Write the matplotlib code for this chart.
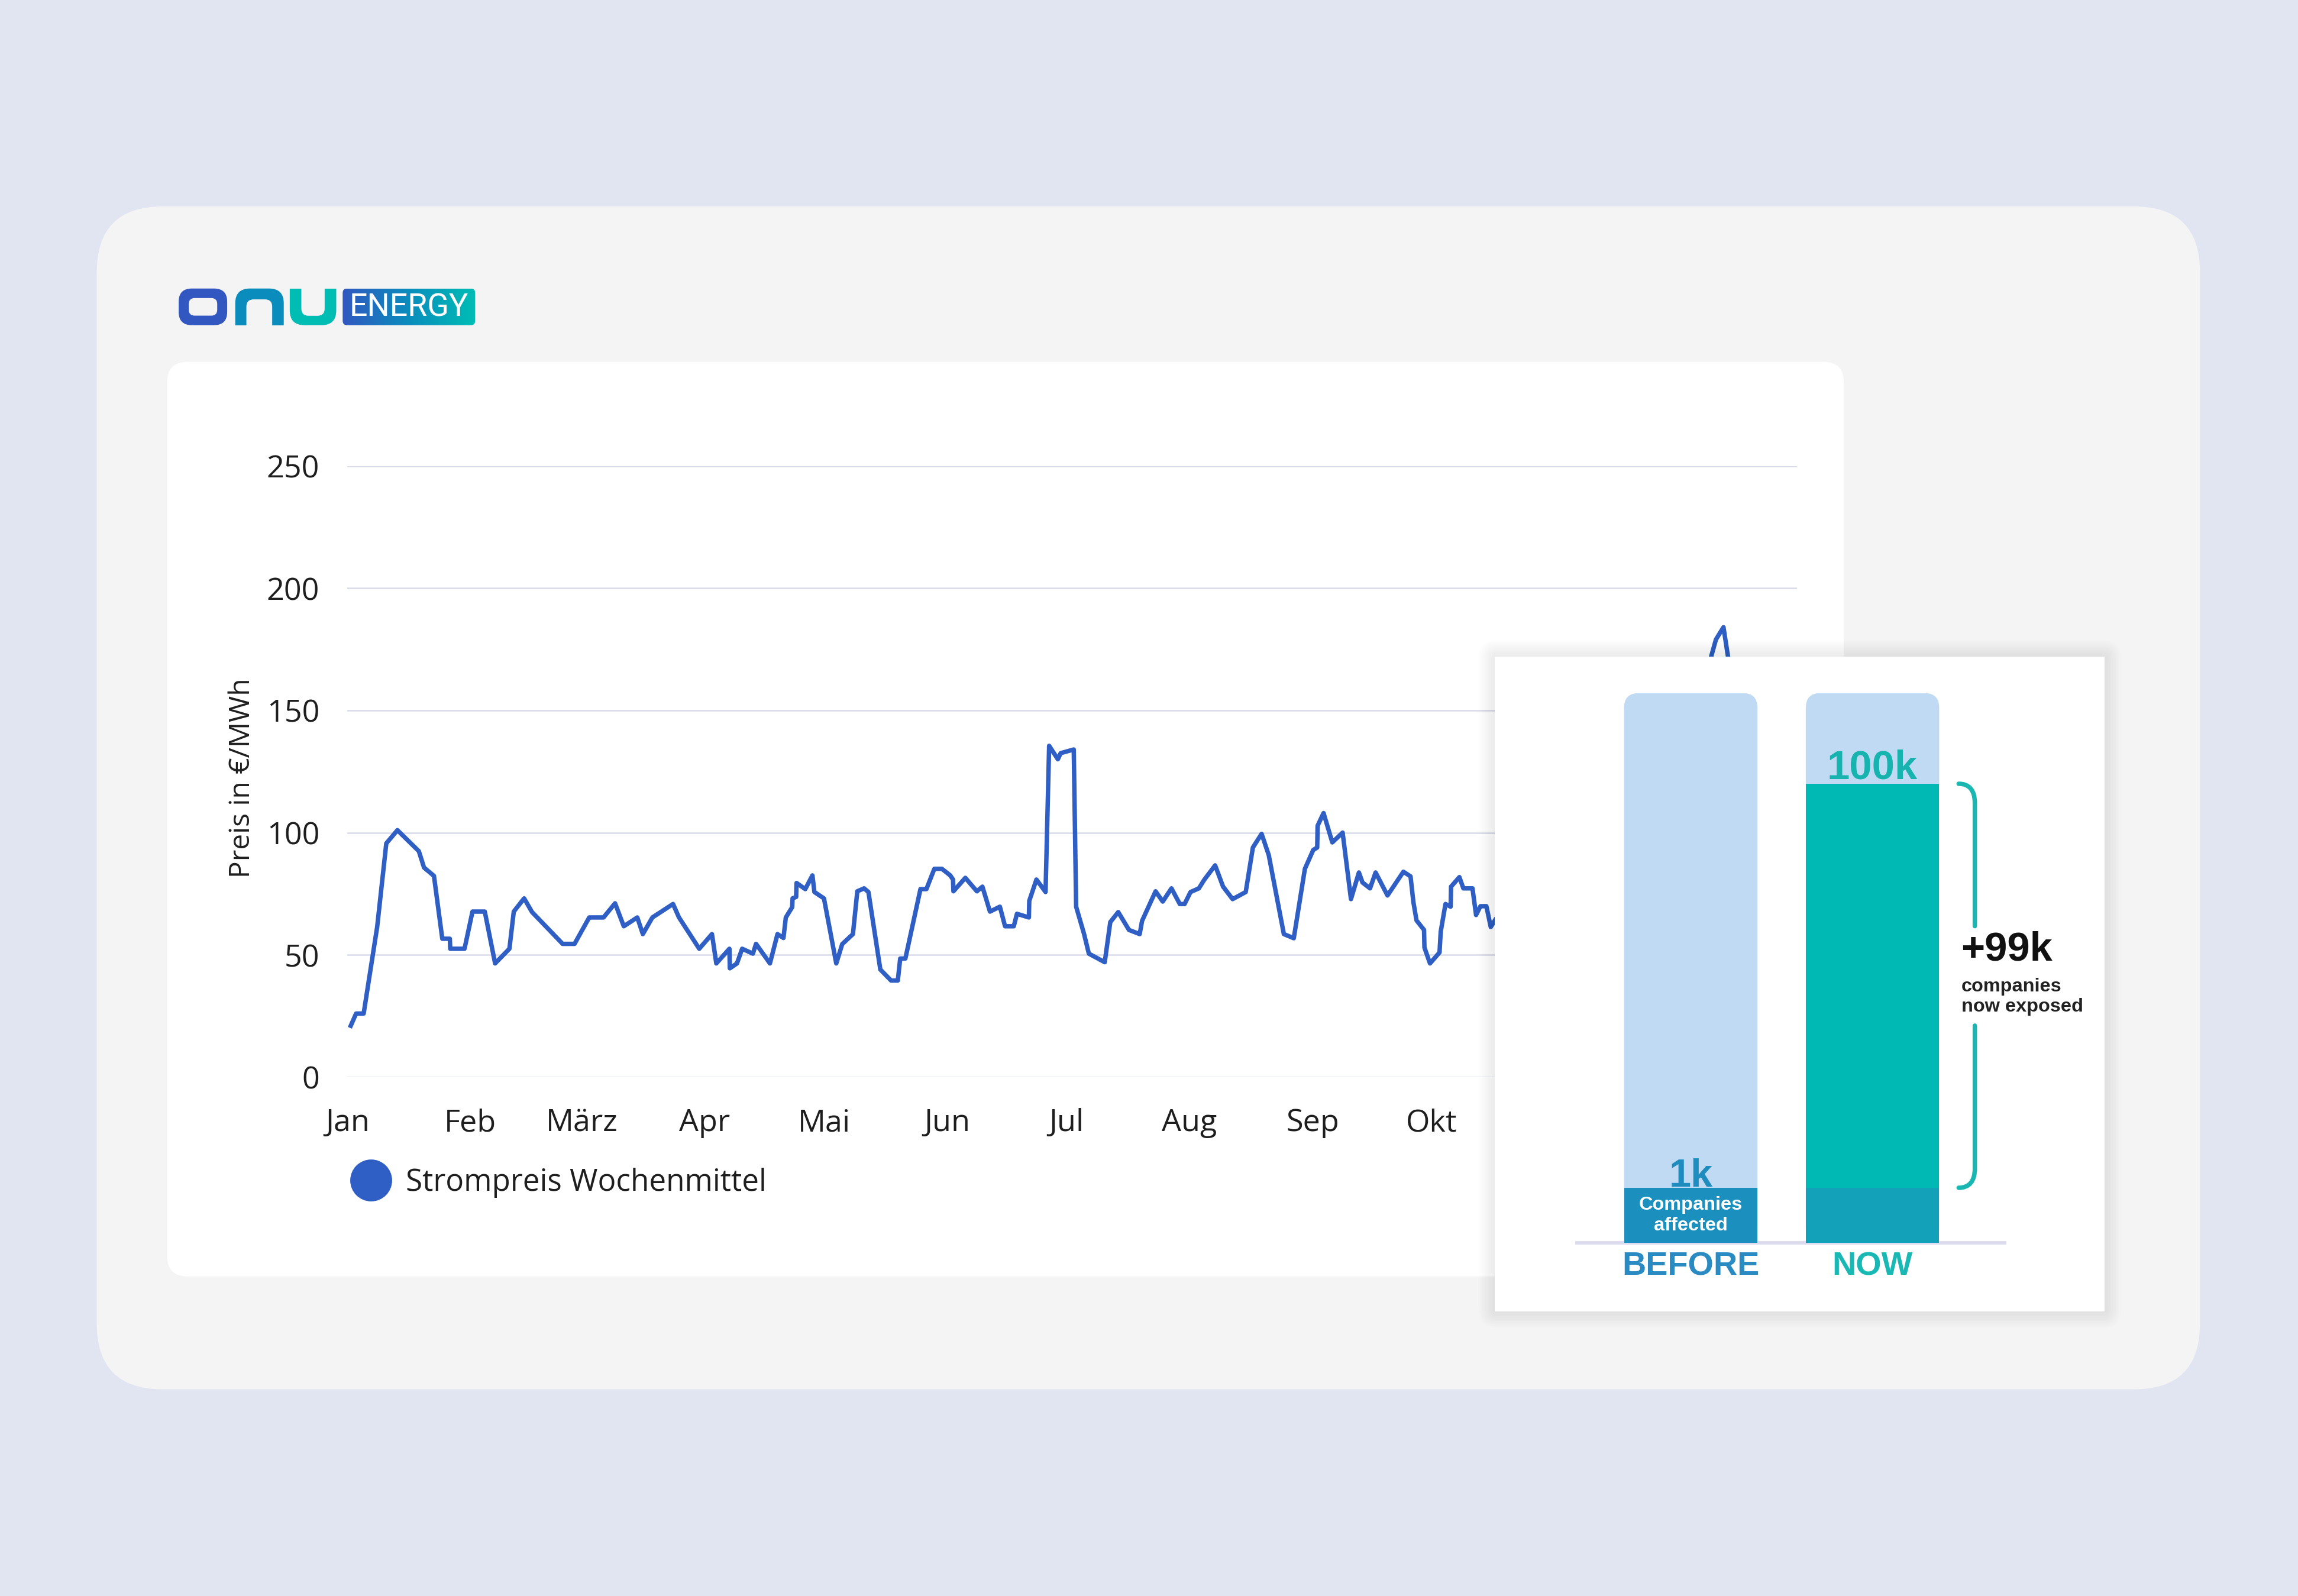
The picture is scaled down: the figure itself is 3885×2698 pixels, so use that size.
import matplotlib
matplotlib.use("Agg")
import matplotlib.pyplot as plt
import numpy as np
from matplotlib.patches import FancyBboxPatch, Rectangle, PathPatch
from matplotlib.path import Path
from matplotlib.lines import Line2D
from matplotlib.colors import LinearSegmentedColormap

plt.rcParams['font.family'] = ['Open Sans', 'DejaVu Sans']

# ---------------- data ----------------
# weekly mean power price, x = day of year, y = EUR/MWh
days = [0.85, 2.2, 4.1, 7.5, 9.8, 12.6, 18.0, 19.3, 21.8, 23.9, 25.8, 25.9, 29.5,
        31.5, 34.6, 37.2, 40.8, 41.9, 44.5, 46.5, 54.2, 57.2, 60.9, 64.5, 67.4,
        69.6, 73.0, 74.4, 76.8, 82.0, 83.5, 88.6, 91.8, 92.9, 96.2, 96.3, 98.1,
        99.4, 102.1, 102.9, 106.4, 108.3, 109.8, 110.4, 112.0, 112.1, 113.0, 113.1,
        115.3, 117.1, 117.6, 120.0, 123.1, 124.6, 127.3, 128.4, 130.1, 131.2, 134.2,
        136.9, 138.6, 139.2, 140.5, 144.3, 145.8, 147.8, 149.7, 151.8, 152.5, 152.6,
        155.6, 158.5, 159.9, 161.8, 164.3, 165.6, 167.8, 168.6, 171.6, 171.7, 173.5,
        175.8, 176.7, 178.9, 179.6, 182.9, 183.5, 185.5, 186.7, 190.7, 192.1, 194.1,
        196.8, 199.5, 200.1, 203.5, 205.3, 207.5, 209.6, 210.8, 212.3, 214.4, 215.8,
        218.5, 220.5, 222.9, 226.2, 228.0, 230.2, 232.0, 235.8, 238.3, 241.1, 243.2,
        244.2, 244.3, 245.8, 248.0, 250.6, 252.7, 254.7, 255.6, 257.5, 258.9, 261.9,
        265.9, 267.7, 268.4, 269.2, 271.1, 271.2, 272.6, 275.0, 275.3, 276.5, 277.8,
        277.9, 280.0, 281.0, 283.3, 284.2, 285.3, 286.8, 287.9, 289.2,
        # mostly hidden behind the inset (estimated)
        293.0, 299.0, 306.0, 313.0, 320.0, 327.0, 334.0, 341.0, 344.6, 346.5,
        348.3, 352.0, 358.0, 364.0]
prices = [21.0, 26.0, 26.0, 61.4, 95.6, 101.0, 92.4, 85.7, 82.3, 56.6, 56.6, 52.5, 52.5,
          67.7, 67.7, 46.5, 52.5, 67.7, 73.1, 67.5, 54.5, 54.5, 65.3, 65.3, 71.1,
          61.7, 65.3, 58.5, 65.3, 70.8, 65.3, 52.5, 58.5, 46.5, 52.5, 44.5, 46.5,
          52.5, 50.5, 54.5, 46.5, 58.5, 56.9, 65.3, 69.5, 73.1, 73.7, 79.4,
          76.9, 82.5, 75.7, 73.1, 46.5, 54.4, 58.5, 76.0, 77.2, 75.7, 44.0,
          39.5, 39.5, 48.5, 48.5, 76.9, 76.9, 85.2, 85.2, 82.5, 80.8, 76.0,
          81.5, 76.0, 77.9, 67.7, 69.7, 61.7, 61.7, 66.8, 65.3, 72.1, 80.8,
          75.7, 135.5, 130.0, 132.5, 134.0, 69.7, 58.5, 50.5, 47.0, 63.4, 67.5,
          60.2, 58.5, 63.9, 76.0, 71.8, 77.2, 70.8, 70.8, 75.7, 77.2, 80.8,
          86.6, 77.9, 72.8, 75.7, 93.9, 99.5, 90.8, 58.5, 56.8, 85.2, 92.9,
          93.9, 102.8, 108.0, 96.0, 100.0, 72.8, 83.7, 79.6, 77.2, 83.7, 74.3,
          84.0, 82.1, 71.8, 64.1, 60.2, 53.0, 46.5, 51.0, 59.5, 70.8, 69.7,
          77.9, 81.8, 77.2, 77.2, 66.3, 69.9, 69.9, 61.4, 64.8,
          72.0, 80.0, 95.0, 88.0, 110.0, 120.0, 138.0, 158.0, 179.0, 184.0,
          165.0, 130.0, 110.0, 95.0]

month_starts = [0, 31, 59, 90, 120, 151, 181, 212, 243, 273, 304, 334]
month_labels = ['Jan', 'Feb', 'März', 'Apr', 'Mai', 'Jun', 'Jul', 'Aug', 'Sep', 'Okt', 'Nov', 'Dez']
price_ticks = [0, 50, 100, 150, 200, 250]

# inset bar chart (visual scale, full track = 100)
bar_labels = ['BEFORE', 'NOW']
track = [100, 100]
affected = [10, 10]
exposed = [0, 73.5]

# ---------------- layout helpers ----------------
W, H = 1568, 1089
BG = '#e1e5f1'
CARD = '#f4f4f4'
LINE = '#2f5ec4'


def frac(x0, y0, x1, y1):
    return [x0 / W, 1 - y1 / H, (x1 - x0) / W, (y1 - y0) / H]


def rbox(ax, x, y, w, h, r, color, z, **kw):
    p = FancyBboxPatch((x, y), w, h, boxstyle=f'round,pad=0,rounding_size={r}',
                       fc=color, ec='none', zorder=z, **kw)
    ax.add_patch(p)
    return p


fig = plt.figure(figsize=(3885.4 / 300, 2698.4 / 300), dpi=300)
fig.patch.set_facecolor(BG)

# background cards
bg = fig.add_axes([0, 0, 1, 1], zorder=0)
bg.set_xlim(0, W)
bg.set_ylim(H, 0)
bg.axis('off')
rbox(bg, 66, 141, 1435, 807, 45, CARD, 1)
rbox(bg, 114, 247, 1144, 624, 14, 'white', 2)

# logo "onu"
rbox(bg, 121.9, 197, 33.1, 25, 9, '#3357c0', 3)
rbox(bg, 128.8, 203.5, 19.4, 12, 4, CARD, 4)
rbox(bg, 160.5, 197, 33.1, 37, 10, '#0a8cbd', 3)
rbox(bg, 168.1, 204.4, 17.6, 25, 5, CARD, 4)
bg.add_patch(Rectangle((158, 222), 38, 15, fc=CARD, ec='none', zorder=5))
rbox(bg, 197.7, 185, 31.7, 37, 10, '#00bdb4', 3)
rbox(bg, 205.6, 190, 15.9, 25.6, 5, CARD, 4)
bg.add_patch(Rectangle((195, 183), 37, 14, fc=CARD, ec='none', zorder=5))

# logo "ENERGY" box with gradient
ebox = rbox(bg, 233.8, 197, 90.4, 25, 3, 'none', 3)
grad = LinearSegmentedColormap.from_list('logo', ['#3157c0', '#0a8dbd', '#00bdb4'])
im = bg.imshow(np.linspace(0, 1, 256).reshape(1, -1), cmap=grad, aspect='auto',
               extent=(233.8, 324.2, 222, 197), zorder=3)
im.set_clip_path(ebox)
bg.text(279, 210, 'ENERGY', color='white', fontsize=12.9, family=['Roboto', 'DejaVu Sans'],
        fontweight='normal', ha='center', va='center', zorder=6)
bg.set_xlim(0, W)
bg.set_ylim(H, 0)

# ---------------- line chart ----------------
ax = fig.add_axes(frac(237, 318, 1226, 735), zorder=1)
ax.set_facecolor('none')
ax.plot(days, prices, color=LINE, lw=1.8, solid_joinstyle='round', zorder=3)
ax.set_xlim(0, 365)
ax.set_ylim(0, 250)
ax.set_yticks(price_ticks)
ax.set_xticks(month_starts)
ax.set_xticklabels(month_labels)
ax.grid(axis='y', color='#d8dae9', lw=0.6)
ax.set_axisbelow(True)
for s in ax.spines.values():
    s.set_visible(False)
ax.tick_params(axis='y', length=0, pad=11.3, labelsize=12.5, labelcolor='#1e1e1e')
ax.tick_params(axis='x', length=0, pad=12.5, labelsize=12.5, labelcolor='#1e1e1e')
ax.set_ylabel('Preis in €/MWh', fontsize=11.5, color='#1e1e1e')
ax.yaxis.set_label_coords(-0.063, 0.49)

handle = Line2D([], [], marker='o', ls='none', color=LINE, markersize=16)
fig.legend([handle], ['Strompreis Wochenmittel'], loc='center left',
           bbox_to_anchor=(238.5 / W, 1 - 807 / H), frameon=False, fontsize=12.3,
           handlelength=1.4, handletextpad=0.46, borderpad=0, borderaxespad=0,
           labelcolor='#1e1e1e')

# ---------------- inset panel ----------------
ov = fig.add_axes([0, 0, 1, 1], zorder=2)
ov.set_xlim(0, W)
ov.set_ylim(H, 0)
ov.axis('off')
ov.patch.set_alpha(0)
for i in range(1, 11):
    rbox(ov, 1020 - i * 1.1, 448 - i * 1.1, 416 + i * 2.2, 447 + i * 2.2, 2 + i,
         '#000000', 1, alpha=0.006)
ov.add_patch(Rectangle((1020, 448), 416, 447, fc='white', ec='none', zorder=2))

bx = fig.add_axes(frac(1020, 473, 1436, 848), zorder=3)
bx.patch.set_alpha(0)
bx.axis('off')
bx.set_xlim(-1.077, 2.278)
bx.set_ylim(0, 100)
x = np.arange(len(bar_labels))
width = 0.734

# rounded background tracks
tracks = bx.bar(x, track, width, color='#c0daf4', zorder=2)
for r in tracks:
    rbox(bx, r.get_x(), r.get_y(), r.get_width(), r.get_height(), 0.081, '#c0daf4', 2,
         mutation_aspect=33)
    r.remove()
bx.bar(x, affected, width, color=['#1b8fbe', '#12a1b9'], zorder=3)
bx.bar(x, exposed, width, bottom=affected, color='#00b9b5', zorder=3)
bx.vlines(x, track[0], track[0] + 1.2, color='#4cb89a', lw=0.5, zorder=2)
left_edge = x[0] - width / 2
right_edge = x[-1] + width / 2
bx.hlines(0, left_edge - 0.27, right_edge + 0.37, color='#dddcef', lw=1.4, zorder=1,
          clip_on=False)

bold = dict(family=['Liberation Sans', 'DejaVu Sans'], fontweight='bold')
bx.text(x[0], affected[0] + 0.3, '1k', color='#1f8cc0', fontsize=16, ha='center',
        va='baseline', zorder=5, **bold)
bx.text(x[0], affected[0] / 2, 'Companies\naffected', color='white', fontsize=7.8,
        ha='center', va='center', linespacing=1.2, zorder=5, **bold)
top_now = affected[1] + exposed[1]
bx.text(x[1], top_now + 1.0, '100k', color='#16b3af', fontsize=16.5, ha='center',
        va='baseline', zorder=5, **bold)
bx.text(x[0], -4.3, bar_labels[0], color='#2a8bc3', fontsize=13.4, ha='center',
        va='center', clip_on=False, **bold)
bx.text(x[1], -4.3, bar_labels[1], color='#1ab8b4', fontsize=13.4, ha='center',
        va='center', clip_on=False, **bold)

# bracket for the difference
bxr = right_edge + 0.196
bxl = right_edge + 0.107
gap_top, gap_bot = 57.6, 39.5
top_path = Path([(bxl, top_now), (bxr - 0.03, top_now), (bxr, top_now - 1.2),
                 (bxr, top_now - 3.5), (bxr, gap_top)],
                [Path.MOVETO, Path.CURVE4, Path.CURVE4, Path.CURVE4, Path.LINETO])
bot_path = Path([(bxr, gap_bot), (bxr, affected[1] + 3.5), (bxr, affected[1] + 1.2),
                 (bxr - 0.03, affected[1]), (bxl, affected[1])],
                [Path.MOVETO, Path.LINETO, Path.CURVE4, Path.CURVE4, Path.CURVE4])
for p in (top_path, bot_path):
    bx.add_patch(PathPatch(p, fc='none', ec='#1ab7b2', lw=1.8, capstyle='round',
                           clip_on=False, zorder=4))
bx.text(right_edge + 0.121, 53.3, '+99k', color='#111111', fontsize=16.5, ha='left',
        va='center', clip_on=False, **bold)
bx.text(right_edge + 0.121, 44.8, 'companies\nnow exposed', color='#222222', fontsize=7.8,
        ha='left', va='center', linespacing=1.2, clip_on=False, **bold)

fig.savefig('out.png', dpi=300, facecolor=fig.get_facecolor())
